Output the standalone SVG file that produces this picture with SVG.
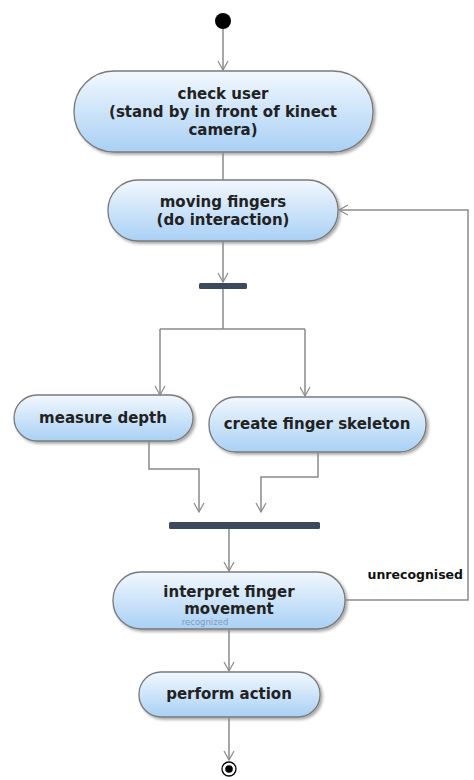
<svg xmlns="http://www.w3.org/2000/svg" width="474" height="780" viewBox="0 0 474 780">
<defs>
<linearGradient id="g" x1="0" y1="0" x2="0" y2="1">
<stop offset="0" stop-color="#f2f8fe"/>
<stop offset="1" stop-color="#a9d0f5"/>
</linearGradient>
<filter id="sh" x="-10%" y="-10%" width="130%" height="140%">
<feGaussianBlur in="SourceAlpha" stdDeviation="1.5"/>
<feOffset dx="2" dy="2" result="b"/>
<feComponentTransfer><feFuncA type="linear" slope="0.35"/></feComponentTransfer>
<feMerge><feMergeNode/><feMergeNode in="SourceGraphic"/></feMerge>
</filter>
<marker id="a" markerWidth="12" markerHeight="12" refX="10" refY="6" orient="auto" markerUnits="userSpaceOnUse">
<path d="M1,1 L10,6 L1,11" fill="none" stroke="#8a8a8a" stroke-width="1.2"/>
</marker>
</defs>
<style>
.n{fill:url(#g);stroke:#7a7a7a;stroke-width:1.3;filter:url(#sh)}
.t{font-family:"DejaVu Sans",Verdana,sans-serif;font-weight:bold;font-size:15px;fill:#222;text-anchor:middle}
.c{fill:none;stroke:#8a8a8a;stroke-width:1.5}
.bar{fill:#3d4a5e}
</style>
<g id="start"><circle cx="223" cy="21" r="8" fill="#000"/></g>
<g id="check-user">
<rect class="n" x="74" y="71" width="299" height="81" rx="40" ry="40"/>
<text class="t" x="223" y="99">check user</text>
<text class="t" x="223" y="117">(stand by in front of kinect</text>
<text class="t" x="223" y="135">camera)</text>
</g>
<g id="moving-fingers">
<rect class="n" x="108" y="180" width="230" height="61" rx="30" ry="30"/>
<text class="t" x="223" y="207">moving fingers</text>
<text class="t" x="223" y="225">(do interaction)</text>
</g>
<g id="fork"><rect class="bar" x="199" y="283" width="48" height="6" rx="1.5"/></g>
<g id="measure-depth">
<rect class="n" x="14" y="395" width="179" height="46" rx="23" ry="23"/>
<text class="t" x="103" y="423">measure depth</text>
</g>
<g id="create-finger-skeleton">
<rect class="n" x="209" y="397" width="217" height="55" rx="27" ry="27"/>
<text class="t" x="317" y="429">create finger skeleton</text>
</g>
<g id="join"><rect class="bar" x="169" y="522" width="151" height="7" rx="1.5"/></g>
<g id="interpret">
<rect class="n" x="113" y="572" width="232" height="57" rx="28" ry="28"/>
<text class="t" x="229" y="597">interpret finger</text>
<text class="t" x="229" y="614">movement</text>
</g>
<g id="perform-action">
<rect class="n" x="139" y="672" width="181" height="45" rx="22" ry="22"/>
<text class="t" x="229" y="699">perform action</text>
</g>
<g id="end">
<circle cx="229" cy="769" r="7" fill="#fff" stroke="#000" stroke-width="1.3"/>
<circle cx="229" cy="769" r="3.8" fill="#000"/>
</g>
<g id="connectors">
<path class="c" d="M223,29 V70" marker-end="url(#a)"/>
<path class="c" d="M223,152 V180"/>
<path class="c" d="M223,241 V282" marker-end="url(#a)"/>
<path class="c" d="M223,289 V329 M160,329 H305 M160,329 V395" marker-end="url(#a)"/>
<path class="c" d="M305,329 V396" marker-end="url(#a)"/>
<path class="c" d="M149,441 V469 H199 V512" marker-end="url(#a)"/>
<path class="c" d="M318,452 V477 H261 V512" marker-end="url(#a)"/>
<path class="c" d="M229,529 V571" marker-end="url(#a)"/>
<path class="c" d="M345,600 H468 V210 H339" marker-end="url(#a)"/>
<path class="c" d="M229,629 V671" marker-end="url(#a)"/>
<path class="c" d="M229,717 V760" marker-end="url(#a)"/>
<text x="463" y="579" style="font-family:'DejaVu Sans',Verdana,sans-serif;font-weight:bold;font-size:12.5px;fill:#111;text-anchor:end">unrecognised</text>
<text x="205" y="625" style="font-family:'DejaVu Sans',Verdana,sans-serif;font-size:8.5px;fill:#7f9ab8;text-anchor:middle">recognized</text>
</g>
</svg>
